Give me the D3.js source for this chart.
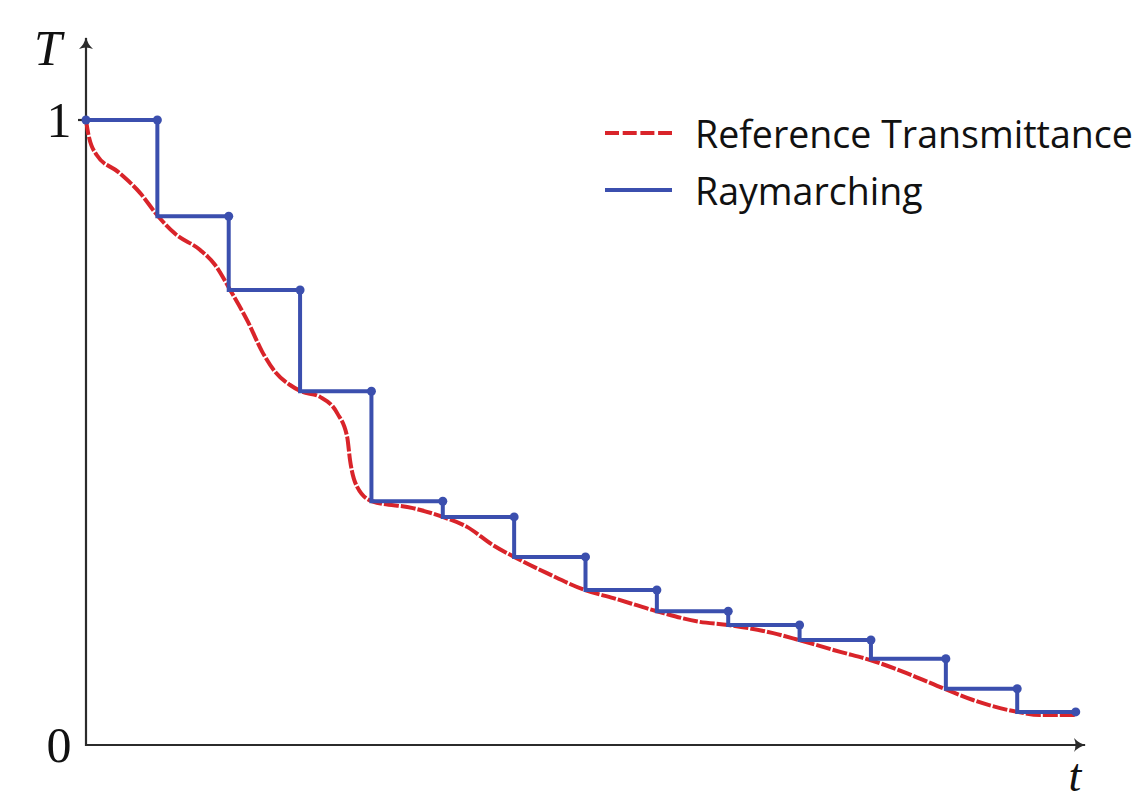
<!DOCTYPE html>
<html>
<head>
<meta charset="utf-8">
<script src="https://cdn.jsdelivr.net/npm/d3@7"></script>
<style>
  body { margin: 0; background: #fff; }
  svg { display: block; }
</style>
</head>
<body>
<div id="chart"></div>
<script>
const width = 1142
const height = 803;

// reference transmittance curve (t, T)
const refT = [0, 0.03, 0.15, 0.45, 0.76, 1.01, 1.25, 1.6, 1.81, 2.02, 2.27, 2.47, 2.65, 2.86, 3.01,
  3.28, 3.52, 3.66, 3.7, 3.8, 4.01, 4.58, 5.0, 5.34, 5.7, 6.0, 6.46, 6.99, 7.39, 8.0, 8.6, 9.0,
  9.63, 9.99, 10.57, 10.99, 11.5, 12.07, 12.43, 13.05, 13.37, 13.86];
const refTr = [1, 0.979, 0.944, 0.917, 0.883, 0.846, 0.818, 0.792, 0.768, 0.728, 0.677, 0.629, 0.597, 0.576, 0.566,
  0.557, 0.531, 0.493, 0.456, 0.413, 0.39, 0.379, 0.365, 0.349, 0.32, 0.301, 0.275, 0.248, 0.235, 0.214, 0.197, 0.192,
  0.179, 0.168, 0.149, 0.136, 0.115, 0.088, 0.072, 0.053, 0.048, 0.048];

// raymarching samples and the value held over each step
const marchT = [0, 1, 2, 3, 4, 5, 6, 7, 8, 9, 10, 11, 12.05, 13.05, 13.87];
const marchTr = [1, 0.846, 0.728, 0.566, 0.39, 0.365, 0.301, 0.248, 0.214, 0.192, 0.168, 0.138, 0.09, 0.053];

const yTicks = [0, 1];
const legendLabels = ['Reference Transmittance', 'Raymarching'];

const red = '#d9242a';
const blue = '#3b4fae';
const axisColor = '#2b2b2b';

const svg = d3.select('#chart')
  .append('svg')
  .attr('width', width)
  .attr('height', height);

const x = d3.scaleLinear().domain([0, 14]).range([86, 1085]);
const y = d3.scaleLinear().domain([0, 1]).range([745, 120]);

// arrow heads
const defs = svg.append('defs');
defs.append('marker')
    .attr('id', 'arrow')
    .attr('viewBox', '-13 -8 15 16')
    .attr('refX', 0)
    .attr('refY', 0)
    .attr('markerWidth', 15)
    .attr('markerHeight', 16)
    .attr('markerUnits', 'userSpaceOnUse')
    .attr('orient', 'auto')
  .append('path')
    .attr('d', 'M1,0 Q-6,-1.5 -11,-7 Q-8,0 -11,7 Q-6,1.5 1,0 Z')
    .attr('fill', axisColor);

// axes
svg.append('line')
    .attr('x1', x(0)).attr('y1', y(0))
    .attr('x2', x(14)).attr('y2', y(0))
    .attr('stroke', axisColor)
    .attr('stroke-width', 2.2)
    .attr('marker-end', 'url(#arrow)');

svg.append('line')
    .attr('x1', x(0)).attr('y1', y(0) + 1.1)
    .attr('x2', x(0)).attr('y2', 38)
    .attr('stroke', axisColor)
    .attr('stroke-width', 2.2)
    .attr('marker-end', 'url(#arrow)');

// tick at 1
svg.append('line')
    .attr('x1', x(0) - 8).attr('y1', y(1))
    .attr('x2', x(0)).attr('y2', y(1))
    .attr('stroke', axisColor)
    .attr('stroke-width', 2.2);

svg.selectAll('text.tick')
    .data(yTicks)
  .join('text')
    .attr('class', 'tick')
    .attr('x', 59)
    .attr('y', d => y(d) + 17)
    .attr('text-anchor', 'middle')
    .attr('font-family', 'Liberation Serif, serif')
    .attr('font-size', 50)
    .attr('fill', '#111')
    .text(d => d);

svg.append('text')
    .attr('x', 48)
    .attr('y', 65)
    .attr('text-anchor', 'middle')
    .attr('font-family', 'Liberation Serif, serif')
    .attr('font-style', 'italic')
    .attr('font-size', 50)
    .attr('fill', '#111')
    .text('T');

svg.append('text')
    .attr('x', 1075)
    .attr('y', 791)
    .attr('text-anchor', 'middle')
    .attr('font-family', 'Liberation Serif, serif')
    .attr('font-style', 'italic')
    .attr('font-size', 46)
    .attr('fill', '#111')
    .text('t');

// reference curve
const refLine = d3.line()
  .x(d => x(d[0]))
  .y(d => y(d[1]))
  .curve(d3.curveMonotoneX);

svg.append('path')
    .datum(refT.map((t, i) => [t, refTr[i]]))
    .attr('d', refLine)
    .attr('fill', 'none')
    .attr('stroke', red)
    .attr('stroke-width', 4)
    .attr('stroke-dasharray', '15 2');

// raymarching steps
const stepPts = marchTr.map((v, i) => [marchT[i], v]);
stepPts.push([marchT[marchT.length - 1], marchTr[marchTr.length - 1]]);

svg.append('path')
    .datum(stepPts)
    .attr('d', d3.line().x(d => x(d[0])).y(d => y(d[1])).curve(d3.curveStepAfter))
    .attr('fill', 'none')
    .attr('stroke', blue)
    .attr('stroke-width', 4);

const dots = marchT.map((t, i) => [t, marchTr[Math.max(0, i - 1)]]);
svg.selectAll('circle')
    .data(dots)
  .join('circle')
    .attr('cx', d => x(d[0]))
    .attr('cy', d => y(d[1]))
    .attr('r', 4.5)
    .attr('fill', blue);

// legend
const legend = svg.append('g');
const rows = legend.selectAll('g')
    .data(legendLabels)
  .join('g')
    .attr('transform', (_, i) => `translate(0,${133 + i * 57})`);

rows.append('line')
    .attr('x1', 605).attr('x2', 672)
    .attr('stroke', (_, i) => i === 0 ? red : blue)
    .attr('stroke-width', 4)
    .attr('stroke-dasharray', (_, i) => i === 0 ? '14 3.7' : null);

const labels = rows.append('text')
    .attr('x', 695)
    .attr('y', 15)
    .attr('font-family', 'Open Sans, sans-serif')
    .attr('font-size', 40)
    .attr('fill', '#111')
    .text(d => d);

// fit legend text to the reference width
const w0 = labels.nodes()[0].getComputedTextLength();
labels.attr('font-size', 40 * 438 / w0);
</script>
</body>
</html>
